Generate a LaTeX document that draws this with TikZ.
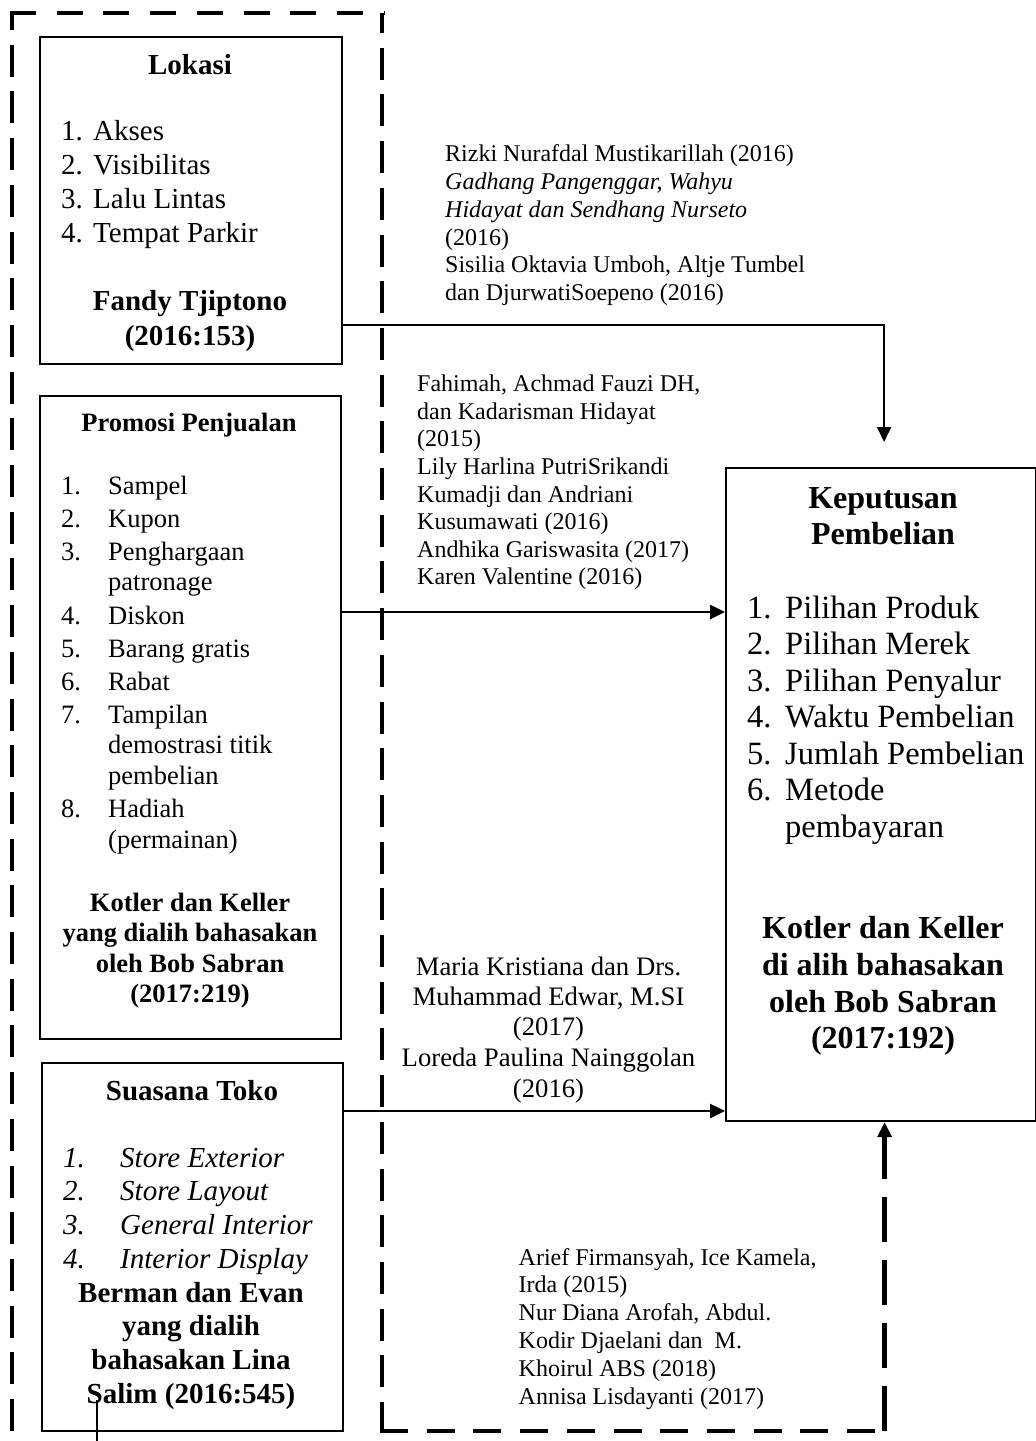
\documentclass[tikz,border=0pt]{standalone}
\usepackage{fontspec}
\setmainfont{Liberation Serif}
\usetikzlibrary{arrows.meta}
\begin{document}
\begin{tikzpicture}[x=1pt,y=-1pt,
  box/.style={draw, line width=2.2pt, inner sep=0, anchor=north west},
  T/.style={inner sep=0, anchor=base west},
  C/.style={inner sep=0, anchor=base},
  fa/.style={font=\fontsize{24}{28}\selectfont},
  fai/.style={font=\fontsize{24}{28}\selectfont\itshape},
  fm/.style={font=\fontsize{26.7}{30}\selectfont},
  fb/.style={font=\fontsize{26.5}{30}\selectfont},
  fbb/.style={font=\fontsize{26.5}{30}\selectfont\bfseries},
  fc/.style={font=\fontsize{29}{33}\selectfont},
  fcb/.style={font=\fontsize{29}{33}\selectfont\bfseries},
  fci/.style={font=\fontsize{29}{33}\selectfont\itshape},
  fd/.style={font=\fontsize{32.5}{36}\selectfont},
  fdb/.style={font=\fontsize{32}{36}\selectfont\bfseries},
  tip/.style={-{Triangle[length=15pt,width=14pt]}},
  conn/.style={line width=2.6pt, tip},
  thinconn/.style={line width=1.8pt, tip},
  outerv/.style={line width=4pt, dash pattern=on 32pt off 14.7pt},
  outerh/.style={line width=4pt, dash pattern=on 26pt off 20.7pt},
  outerb/.style={line width=4pt, dash pattern=on 28pt off 18.7pt},
  dconn/.style={line width=5pt, dash pattern=on 45pt off 18pt, tip}
]
\useasboundingbox (0,0) rectangle (1036,1441);

% ---------- outer dashed frame ----------
\coordinate (oTL) at (12,13);
\coordinate (oTR) at (382,13);
\coordinate (oBR) at (382,1431);
\coordinate (oBL) at (12,1441);
\draw[outerv, dash phase=15pt] (oTL) -- (oBL);
\draw[outerh] ([xshift=-2pt]oTL) -- ([xshift=2pt]oTR);
\draw[outerv, dash phase=12pt] (oTR) -- ([yshift=-2pt]oBR);

% ---------- boxes ----------
\node[box, minimum width=302pt, minimum height=327pt] (lok) at (39,36) {};
\node[box, minimum width=301pt, minimum height=643pt] (prom) at (39,395) {};
\node[box, minimum width=301pt, minimum height=368pt] (sua) at (41,1062) {};
\node[box, minimum width=310pt, minimum height=653pt] (kep) at (725,467) {};

% ---------- Lokasi ----------
\node[C,fcb] (lokT) at (190,74) {Lokasi};
\node[T,fc] (lok1n) at (61,140) {1.};
\node[T,fc] (lok1) at (93,140) {Akses};
\node[T,fc] (lok2n) at (61,174) {2.};
\node[T,fc] (lok2) at (93,174) {Visibilitas};
\node[T,fc] (lok3n) at (61,208) {3.};
\node[T,fc] (lok3) at (93,208) {Lalu Lintas};
\node[T,fc] (lok4n) at (61,242) {4.};
\node[T,fc] (lok4) at (93,242) {Tempat Parkir};
\node[C,fcb] (lokA) at (190,310) {Fandy Tjiptono};
\node[C,fcb] (lokB) at (190,345) {(2016:153)};

% ---------- Promosi Penjualan ----------
\node[C,fbb] (promT) at (189,431) {Promosi Penjualan};
\node[T,fb] (pr1n) at (61,494) {1.};
\node[T,fb] (pr1) at (108,494) {Sampel};
\node[T,fb] (pr2n) at (61,527) {2.};
\node[T,fb] (pr2) at (108,527) {Kupon};
\node[T,fb] (pr3n) at (61,560) {3.};
\node[T,fb] (pr3) at (108,560) {Penghargaan};
\node[T,fb] (pr3b) at (108,590) {patronage};
\node[T,fb] (pr4n) at (61,624) {4.};
\node[T,fb] (pr4) at (108,624) {Diskon};
\node[T,fb] (pr5n) at (61,657) {5.};
\node[T,fb] (pr5) at (108,657) {Barang gratis};
\node[T,fb] (pr6n) at (61,690) {6.};
\node[T,fb] (pr6) at (108,690) {Rabat};
\node[T,fb] (pr7n) at (61,723) {7.};
\node[T,fb] (pr7) at (108,723) {Tampilan};
\node[T,fb] (pr7b) at (108,753) {demostrasi titik};
\node[T,fb] (pr7c) at (108,784) {pembelian};
\node[T,fb] (pr8n) at (61,817) {8.};
\node[T,fb] (pr8) at (108,817) {Hadiah};
\node[T,fb] (pr8b) at (108,848) {(permainan)};
\node[C,fbb] (prA) at (190,911) {Kotler dan Keller};
\node[C,fbb] (prB) at (190,941) {yang dialih bahasakan};
\node[C,fbb] (prC) at (190,972) {oleh Bob Sabran};
\node[C,fbb] (prD) at (190,1002) {(2017:219)};

% ---------- Suasana Toko ----------
\node[C,fcb] (suaT) at (192,1100) {Suasana Toko};
\node[T,fci] (su1n) at (63,1167) {1.};
\node[T,fci] (su1) at (120,1167) {Store Exterior};
\node[T,fci] (su2n) at (63,1200) {2.};
\node[T,fci] (su2) at (120,1200) {Store Layout};
\node[T,fci] (su3n) at (63,1234) {3.};
\node[T,fci] (su3) at (120,1234) {General Interior};
\node[T,fci] (su4n) at (63,1268) {4.};
\node[T,fci] (su4) at (120,1268) {Interior Display};
\node[C,fcb] (suA) at (191,1302) {Berman dan Evan};
\node[C,fcb] (suB) at (191,1335) {yang dialih};
\node[C,fcb] (suC) at (191,1369) {bahasakan Lina};
\node[C,fcb] (suD) at (191,1403) {Salim (2016:545)};

% ---------- Keputusan Pembelian ----------
\node[C,fdb] (kepT1) at (883,508.5) {Keputusan};
\node[C,fdb] (kepT2) at (883,544.5) {Pembelian};
\node[T,fd] (kp1n) at (747,618) {1.};
\node[T,fd] (kp1) at (785,618) {Pilihan Produk};
\node[T,fd] (kp2n) at (747,654.5) {2.};
\node[T,fd] (kp2) at (785,654.5) {Pilihan Merek};
\node[T,fd] (kp3n) at (747,691) {3.};
\node[T,fd] (kp3) at (785,691) {Pilihan Penyalur};
\node[T,fd] (kp4n) at (747,727.5) {4.};
\node[T,fd] (kp4) at (785,727.5) {Waktu Pembelian};
\node[T,fd] (kp5n) at (747,764) {5.};
\node[T,fd] (kp5) at (785,764) {Jumlah Pembelian};
\node[T,fd] (kp6n) at (747,800.5) {6.};
\node[T,fd] (kp6) at (785,800.5) {Metode};
\node[T,fd] (kp6b) at (785,837) {pembayaran};
\node[C,fdb] (kpA) at (883,938) {Kotler dan Keller};
\node[C,fdb] (kpB) at (883,975.5) {di alih bahasakan};
\node[C,fdb] (kpC) at (883,1012) {oleh Bob Sabran};
\node[C,fdb] (kpD) at (883,1048) {(2017:192)};

% ---------- reference texts ----------
\node[T,fa] (r1) at (445,161.7) {Rizki Nurafdal Mustikarillah (2016)};
\node[T,fai] (r2) at (445,189.5) {Gadhang Pangenggar, Wahyu};
\node[T,fai] (r3) at (445,217) {Hidayat dan Sendhang Nurseto};
\node[T,fa] (r4) at (445,245) {(2016)};
\node[T,fa] (r5) at (445,272.7) {Sisilia Oktavia Umboh, Altje Tumbel};
\node[T,fa] (r6) at (445,300.5) {dan DjurwatiSoepeno (2016)};

\node[T,fa] (f1) at (417,391.7) {Fahimah, Achmad Fauzi DH,};
\node[T,fa] (f2) at (417,419) {dan Kadarisman Hidayat};
\node[T,fa] (f3) at (417,446.7) {(2015)};
\node[T,fa] (f4) at (417,474.3) {Lily Harlina PutriSrikandi};
\node[T,fa] (f5) at (417,502) {Kumadji dan Andriani};
\node[T,fa] (f6) at (417,529.5) {Kusumawati (2016)};
\node[T,fa] (f7) at (417,557) {Andhika Gariswasita (2017)};
\node[T,fa] (f8) at (417,584.7) {Karen Valentine (2016)};

\node[C,fm] (m1) at (548.5,975) {Maria Kristiana dan Drs.};
\node[C,fm] (m2) at (548.5,1005) {Muhammad Edwar, M.SI};
\node[C,fm] (m3) at (548.5,1035.5) {(2017)};
\node[C,fm] (m4) at (548.5,1066.5) {Loreda Paulina Nainggolan};
\node[C,fm] (m5) at (548.5,1097) {(2016)};

\node[T,fa] (a1) at (518.5,1265) {Arief Firmansyah, Ice Kamela,};
\node[T,fa] (a2) at (518.5,1292.7) {Irda (2015)};
\node[T,fa] (a3) at (518.5,1320.5) {Nur Diana Arofah, Abdul.};
\node[T,fa] (a4) at (518.5,1348.3) {Kodir Djaelani dan\ \ M.};
\node[T,fa] (a5) at (518.5,1376) {Khoirul ABS (2018)};
\node[T,fa] (a6) at (518.5,1404) {Annisa Lisdayanti (2017)};

% ---------- connectors ----------
\coordinate (la) at ([yshift=40pt]lok.south east);
\coordinate (lt) at ([xshift=3pt,yshift=25pt]kep.north);
\draw[thinconn] (la) -| (lt);

\coordinate (pa) at ([yshift=-217pt]prom.north east);
\draw[conn] (pa) -- (pa -| kep.west);

\coordinate (sa) at ([yshift=-49pt]sua.north east);
\draw[conn] (sa) -- (sa -| kep.west);

\coordinate (kb) at ([xshift=3.5pt]kep.south);
\coordinate (kc) at (oBR -| kb);
\draw[outerb] ([xshift=-2pt]oBR) -- ([xshift=2.5pt]kc);
\draw[dconn] (kc) -- (kb);

% small stray line below Suasana box
\coordinate (t1) at (97,1400);
\coordinate (t2) at (97,1441);
\draw[line width=1.3pt] (t1) -- (t2);
\end{tikzpicture}
\end{document}
